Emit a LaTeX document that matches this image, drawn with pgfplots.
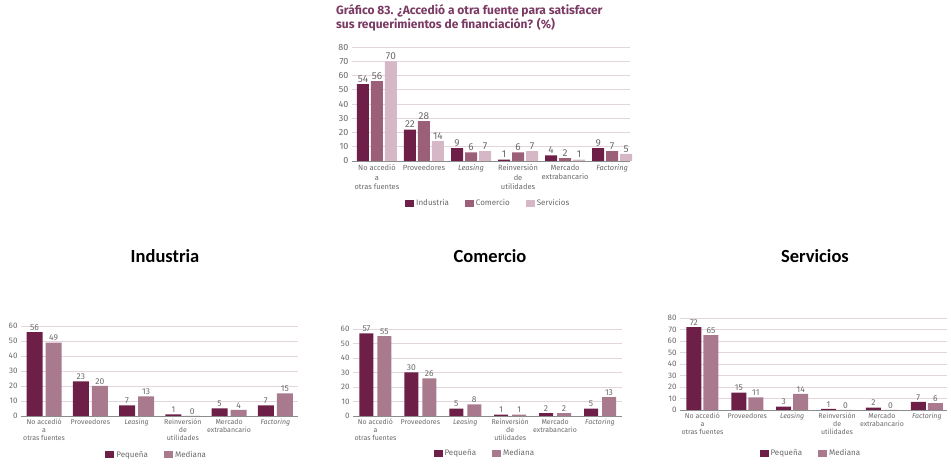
\documentclass[border=0pt]{standalone}
\usepackage{fontspec}
\setmainfont{Fira Sans}
\newfontfamily\headfont{Carlito}
\usepackage{pgfplots}
\pgfplotsset{compat=1.18}
\definecolor{cA}{HTML}{6D1F47}
\definecolor{cB}{HTML}{9C5F78}
\definecolor{cC}{HTML}{D6B7C5}
\definecolor{cM}{HTML}{A97A8E}
\definecolor{txt}{HTML}{6A6A6A}
\definecolor{grd}{HTML}{E2D6DC}
\definecolor{ttl}{HTML}{7A3A63}
\pgfplotsset{
 base/.style={
  scale only axis, ybar, anchor=south west, clip=false,
  axis x line*=bottom, axis y line*=left,
  y axis line style={draw=none},
  x axis line style={draw=black!45, line width=0.6pt},
  major tick length=0pt,
  ymajorgrids, grid style={grd, line width=0.6pt},
  xtick={0,...,5},
  xticklabels={{No accedió\\a\\otras fuentes},Proveedores,\textit{Leasing},{Reinversión\\de\\utilidades},{Mercado\\extrabancario},\textit{Factoring}},
  xticklabel style={align=center, text=txt},
  yticklabel style={text=txt},
  /pgf/number format/assume math mode=true,
  nodes near coords, every node near coord/.append style={text=txt},
  enlarge x limits=false, ymin=0,
  legend style={draw=none, legend columns=-1, text=txt,
    /tikz/every even column/.append style={column sep=14pt}},
  legend image code/.code={\fill[##1] (0pt,-3.5pt) rectangle (9pt,3.5pt);},
 },
 small/.style={
  base,
  xticklabel style={font=\fontsize{7}{7.8}\selectfont, inner sep=1pt, yshift=-2pt},
  yticklabel style={font=\fontsize{8}{8}\selectfont},
  every node near coord/.append style={font=\fontsize{8.5}{8.5}\selectfont, inner sep=1.5pt},
  legend style={font=\fontsize{8}{8}\selectfont},
  xmin=-0.5, xmax=5.49,
 },
}
\begin{document}
\begin{tikzpicture}[x=1pt,y=1pt]
\useasboundingbox (0,0) rectangle (951,466);
% Title
\node[anchor=north west, align=left, text=ttl, font=\bfseries\fontsize{12}{11.5}\selectfont, inner sep=0pt] at (336,462)
 {Gráfico 83. ¿Accedió a otra fuente para satisfacer\\sus requerimientos de financiación? (\%)};
% Top chart
\begin{axis}[base, at={(352pt,305pt)}, width=278pt, height=114pt,
  ymax=80, ytick={0,10,...,80}, xmin=-0.53, xmax=5.38,
  bar width=12pt,
  xticklabel style={font=\fontsize{7.5}{9.5}\selectfont, inner sep=1.5pt, yshift=-2pt},
  yticklabel style={font=\fontsize{9}{9}\selectfont},
  every node near coord/.append style={font=\fontsize{10}{10}\selectfont, inner sep=1.5pt},
  legend style={font=\fontsize{8}{8}\selectfont, at={(0.49,-0.37)}, anchor=center}]
\addplot[fill=cA, draw=none, bar shift=-14pt] coordinates {(0,54) (1,22) (2,9) (3,1) (4,4) (5,9)};
\addplot[fill=cB, draw=none, bar shift=0pt] coordinates {(0,56) (1,28) (2,6) (3,6) (4,2) (5,7)};
\addplot[fill=cC, draw=none, bar shift=14pt] coordinates {(0,70) (1,14) (2,7) (3,7) (4,1) (5,5)};
\legend{Industria, Comercio, Servicios}
\end{axis}
% Headings
\node[font=\headfont\bfseries\fontsize{18.5}{18.5}\selectfont] at (165,210) {Industria};
\node[font=\headfont\bfseries\fontsize{18.5}{18.5}\selectfont] at (490,210) {Comercio};
\node[font=\headfont\bfseries\fontsize{18.5}{18.5}\selectfont] at (815,210) {Servicios};
% Industria
\begin{axis}[small, at={(21pt,50pt)}, width=277pt, height=90pt,
  ymax=60, ytick={0,10,...,60}, bar width=16pt,
  legend style={at={(0.49,-0.43)}, anchor=center}]
\addplot[fill=cA, draw=none, bar shift=-9.5pt] coordinates {(0,56) (1,23) (2,7) (3,1) (4,5) (5,7)};
\addplot[fill=cM, draw=none, bar shift=9.5pt] coordinates {(0,49) (1,20) (2,13) (3,0) (4,4) (5,15)};
\legend{Pequeña, Mediana}
\end{axis}
% Comercio
\begin{axis}[small, at={(353pt,50pt)}, width=269pt, height=87pt,
  ymax=60, ytick={0,10,...,60}, bar width=14pt,
  legend style={at={(0.49,-0.43)}, anchor=center}]
\addplot[fill=cA, draw=none, bar shift=-9pt] coordinates {(0,57) (1,30) (2,5) (3,1) (4,2) (5,5)};
\addplot[fill=cM, draw=none, bar shift=9pt] coordinates {(0,55) (1,26) (2,8) (3,1) (4,2) (5,13)};
\legend{Pequeña, Mediana}
\end{axis}
% Servicios
\begin{axis}[small, at={(680pt,56pt)}, width=267pt, height=92pt,
  ymax=80, ytick={0,10,...,80}, bar width=15pt, xmax=5.45,
  legend style={at={(0.49,-0.47)}, anchor=center}]
\addplot[fill=cA, draw=none, bar shift=-8.5pt] coordinates {(0,72) (1,15) (2,3) (3,1) (4,2) (5,7)};
\addplot[fill=cM, draw=none, bar shift=8.5pt] coordinates {(0,65) (1,11) (2,14) (3,0) (4,0) (5,6)};
\legend{Pequeña, Mediana}
\end{axis}
\end{tikzpicture}
\end{document}
